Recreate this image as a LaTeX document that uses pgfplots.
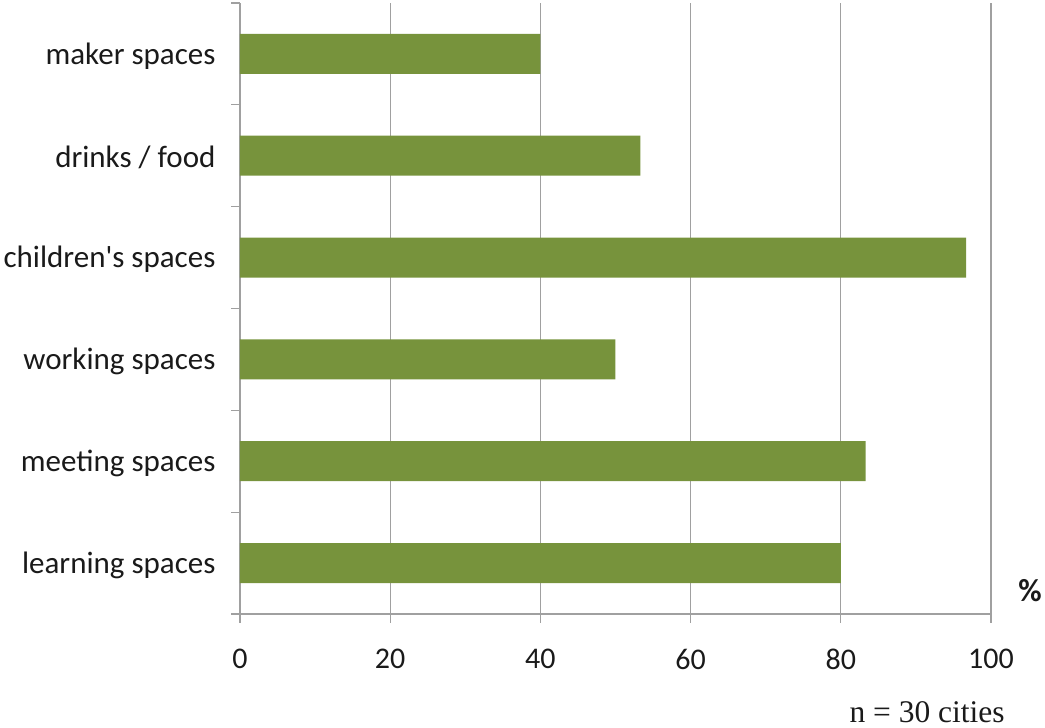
\documentclass[border=0pt]{standalone}
\usepackage{fontspec}
\setmainfont{Carlito}
\newfontfamily\serifn{Liberation Serif}
\usepackage{pgfplots}
\pgfplotsset{compat=1.18}
\definecolor{bargreen}{HTML}{77933C}
\definecolor{axgray}{HTML}{A0A0A0}
\definecolor{txt}{HTML}{1A1A1A}
\begin{document}
\begin{tikzpicture}
\begin{axis}[
  name=ax,
  scale only axis,
  width=751pt, height=611pt,
  xmin=0, xmax=100,
  ymin=-0.5, ymax=5.5,
  xbar, bar width=40pt,
  axis lines=left,
  axis line style={axgray, line width=1.2pt, -},
  xtick={0,20,...,100},
  ytick={-0.5,0.5,...,5.5},
  yticklabels={},
  extra y ticks={0,...,5},
  extra y tick labels={learning spaces,meeting spaces,working spaces,children\textquotesingle s spaces,drinks / food,maker spaces},
  extra y tick style={ytick style={draw=none}},
  major tick length=9pt,
  tick align=outside,
  tick style={axgray, line width=1.2pt},
  xmajorgrids,
  major grid style={axgray, line width=1.2pt},
  /pgf/number format/assume math mode=true,
  xticklabel style={font=\fontsize{30}{34}\selectfont, text=txt, yshift=-23pt},
  yticklabel style={font=\fontsize{31}{35}\selectfont, text=txt, xshift=-12pt, yshift=-2pt},
  clip=false,
]
\addplot[fill=bargreen, draw=none] coordinates {(80,0) (83.3,1) (50,2) (96.7,3) (53.3,4) (40,5)};
\node[font=\fontsize{32}{36}\selectfont\bfseries, text=txt] at (rel axis cs:1.052,0.039) {\%};
\node[font=\fontsize{31.5}{35}\selectfont\serifn, text=txt] at (rel axis cs:0.915,-0.160) {n = 30 cities};
\path (rel axis cs:-0.3196,-0.1866) rectangle (rel axis cs:1.0719,1.0049);
\end{axis}
\end{tikzpicture}
\end{document}
